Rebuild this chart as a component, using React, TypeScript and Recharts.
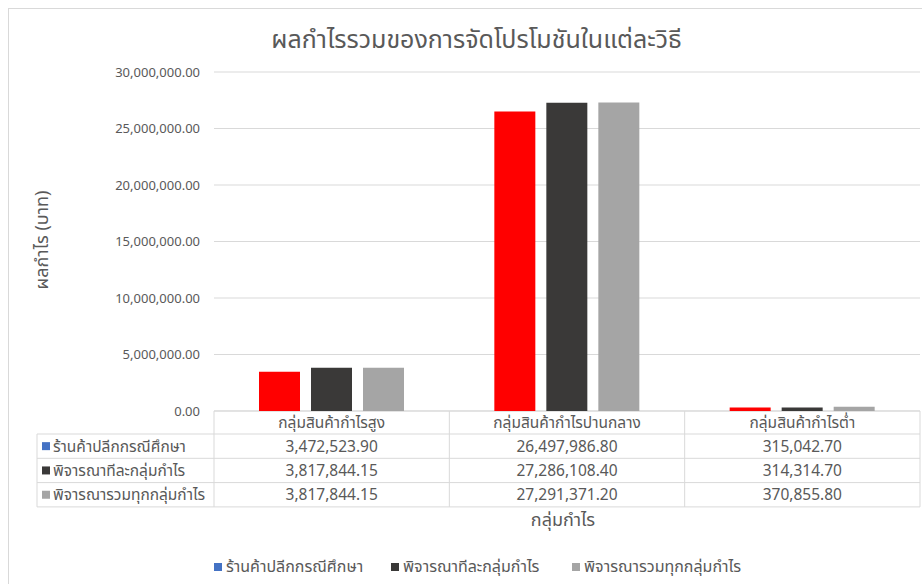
import React from "react";
import { BarChart, Bar, XAxis, YAxis, CartesianGrid, Customized } from "recharts";

const categories = ["กลุ่มสินค้ากำไรสูง", "กลุ่มสินค้ากำไรปานกลาง", "กลุ่มสินค้ากำไรต่ำ"];
const seriesNames = ["ร้านค้าปลีกกรณีศึกษา", "พิจารณาทีละกลุ่มกำไร", "พิจารณารวมทุกกลุ่มกำไร"];
const storeValues = [3472523.9, 26497986.8, 315042.7];
const perGroupValues = [3817844.15, 27286108.4, 314314.7];
const allGroupValues = [3817844.15, 27291371.2, 370855.8];
const yTicks = [0, 5000000, 10000000, 15000000, 20000000, 25000000, 30000000];

const barColors = ["#FF0000", "#3A3938", "#A5A5A5"];
const legendColors = ["#4472C4", "#3A3938", "#A5A5A5"];
const keys = ["store", "perGroup", "allGroup"];
const seriesValues = [storeValues, perGroupValues, allGroupValues];

const data = categories.map((c, i) => ({
  name: c,
  store: storeValues[i],
  perGroup: perGroupValues[i],
  allGroup: allGroupValues[i],
}));

const FONT = "'Noto Sans Thai', 'Noto Sans', 'DejaVu Sans', sans-serif";
const TEXT = "#595959";
const LINE = "#D9D9D9";

const W = 922;
const H = 584;
const PLOT_LEFT = 214;
const PLOT_RIGHT = 920;
const PLOT_TOP = 72;
const PLOT_BOTTOM = 411;
const COL_W = (PLOT_RIGHT - PLOT_LEFT) / categories.length;
const HEAD_H = 23;
const ROW_H = 24.3;
const TABLE_LEFT = 37;
const TABLE_FS = 15.5;

const fmt = (v: number) =>
  v.toLocaleString("en-US", { minimumFractionDigits: 2, maximumFractionDigits: 2 });

// แต่ละคอลัมน์ของตารางข้อมูลวาดจาก tick ของแกน X
function TableColumnTick(props: any) {
  const { x, payload, index } = props;
  const left = x - COL_W / 2;
  const top = PLOT_BOTTOM;
  return (
    <g>
      <line x1={left} y1={top} x2={left} y2={top + HEAD_H + ROW_H * 3} stroke={LINE} />
      {index === categories.length - 1 && (
        <line x1={left + COL_W} y1={top} x2={left + COL_W} y2={top + HEAD_H + ROW_H * 3} stroke={LINE} />
      )}
      <text x={x} y={top + HEAD_H / 2 + 1} textAnchor="middle" dominantBaseline="central" fill={TEXT} fontSize={TABLE_FS} fontFamily={FONT}>
        {payload.value}
      </text>
      {seriesValues.map((vals, r) => (
        <text
          key={r}
          x={x}
          y={top + HEAD_H + ROW_H * r + ROW_H / 2 + 1}
          textAnchor="middle"
          dominantBaseline="central"
          fill={TEXT}
          fontSize={TABLE_FS}
          fontFamily={FONT}
        >
          {fmt(vals[index])}
        </text>
      ))}
    </g>
  );
}

function TableFrame() {
  const top = PLOT_BOTTOM;
  return (
    <g>
      <line x1={PLOT_LEFT} y1={top} x2={PLOT_RIGHT} y2={top} stroke={LINE} />
      {[0, 1, 2, 3].map((r) => (
        <line
          key={r}
          x1={TABLE_LEFT}
          y1={top + HEAD_H + ROW_H * r}
          x2={PLOT_RIGHT}
          y2={top + HEAD_H + ROW_H * r}
          stroke={LINE}
        />
      ))}
      <line x1={TABLE_LEFT} y1={top + HEAD_H} x2={TABLE_LEFT} y2={top + HEAD_H + ROW_H * 3} stroke={LINE} />
      {seriesNames.map((n, r) => {
        const cy = top + HEAD_H + ROW_H * r + ROW_H / 2;
        return (
          <g key={n}>
            <rect x={TABLE_LEFT + 5} y={cy - 4} width={8} height={8} fill={legendColors[r]} />
            <text x={TABLE_LEFT + 16} y={cy + 1} dominantBaseline="central" fill={TEXT} fontSize={TABLE_FS} fontFamily={FONT}>
              {n}
            </text>
          </g>
        );
      })}
      <text x={563} y={520} textAnchor="middle" dominantBaseline="central" fill={TEXT} fontSize={18} fontFamily={FONT}>
        กลุ่มกำไร
      </text>
      <text
        x={42}
        y={240}
        textAnchor="middle"
        dominantBaseline="central"
        fill={TEXT}
        fontSize={18}
        fontFamily={FONT}
        transform="rotate(-90 42 240)"
      >
        ผลกำไร (บาท)
      </text>
    </g>
  );
}

function LegendRow() {
  const xs = [214, 391, 572];
  return (
    <div style={{ position: "absolute", top: 555, left: 0, width: W, height: 22 }}>
      {seriesNames.map((n, i) => (
        <div
          key={n}
          style={{ position: "absolute", left: xs[i], top: 0, display: "flex", alignItems: "center", gap: 4, fontFamily: FONT, fontSize: 16, color: TEXT, whiteSpace: "nowrap" }}
        >
          <span style={{ display: "inline-block", width: 8, height: 8, background: legendColors[i] }} />
          {n}
        </div>
      ))}
    </div>
  );
}

export default function App() {
  return (
    <div style={{ position: "absolute", left: 0, top: 0, width: W, height: H, overflow: "hidden", background: "#fff" }}>
      <div style={{ position: "absolute", left: 8, top: 8, width: W + 20, height: H + 20, border: `1px solid ${LINE}` }} />
      <div style={{ position: "absolute", top: 21, left: 0, width: 953, textAlign: "center", fontFamily: FONT, fontSize: 25, color: TEXT, whiteSpace: "nowrap" }}>
        ผลกำไรรวมของการจัดโปรโมชันในแต่ละวิธี
      </div>
      <div style={{ position: "absolute", left: 0, top: 0 }}>
        <BarChart
          width={W}
          height={H}
          data={data}
          margin={{ top: PLOT_TOP, right: W - PLOT_RIGHT, bottom: 0, left: 0 }}
          barGap={11}
          barSize={41}
        >
          <CartesianGrid vertical={false} stroke={LINE} />
          <XAxis
            dataKey="name"
            height={H - PLOT_BOTTOM}
            axisLine={false}
            tickLine={false}
            interval={0}
            tick={<TableColumnTick />}
          />
          <YAxis
            width={PLOT_LEFT}
            domain={[0, 30000000]}
            ticks={yTicks}
            axisLine={false}
            tickLine={false}
            tickFormatter={fmt}
            tick={{ fill: TEXT, fontSize: 13, fontFamily: FONT }}
            tickMargin={8}
          />
          {keys.map((k, i) => (
            <Bar key={k} dataKey={k} name={seriesNames[i]} fill={barColors[i]} isAnimationActive={false} />
          ))}
          <Customized component={<TableFrame />} />
        </BarChart>
      </div>
      <LegendRow />
    </div>
  );
}
